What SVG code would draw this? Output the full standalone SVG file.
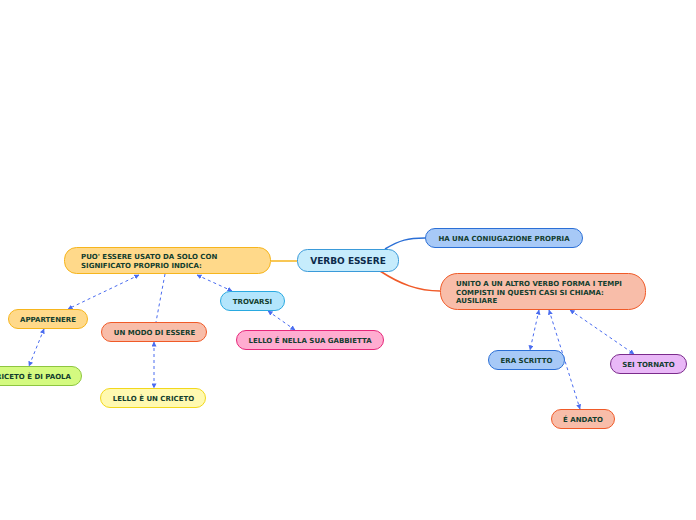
<svg xmlns="http://www.w3.org/2000/svg" width="696" height="520" viewBox="0 0 696 520">
<defs>
<marker id="ah" viewBox="0 0 6 6" refX="5.5" refY="3" markerWidth="5" markerHeight="5" orient="auto-start-reverse" markerUnits="userSpaceOnUse">
<path d="M0,0 L6,3 L0,6 z" fill="#4a6cf0"/>
</marker>
<style>
text{font-family:"DejaVu Sans",Verdana,sans-serif;font-weight:bold;font-size:7px;fill:#123d2e}
.c{text-anchor:middle}
.d{fill:none;stroke:#4a6cf0;stroke-width:1;stroke-dasharray:3,3}
.a{marker-start:url(#ah);marker-end:url(#ah)}
rect{stroke-width:1}
</style>
</defs>
<rect width="696" height="520" fill="#ffffff"/>
<g id="connectors">
<path d="M271,261 L297,261" stroke="#f6b51d" stroke-width="1.5" fill="none"/>
<path d="M385,249 C400,240 408,238 425,238" stroke="#2b6fd6" stroke-width="1.5" fill="none"/>
<path d="M380,271 C400,284 418,291 440,291" stroke="#f05a28" stroke-width="1.5" fill="none"/>
<path class="d a" d="M139,275 L68,309"/>
<path class="d" d="M165,274 L156,322"/>
<path class="d a" d="M197,275 L232,291"/>
<path class="d a" d="M268,311 L295,330"/>
<path class="d a" d="M44,329 L29,366"/>
<path class="d a" d="M154,342 L154,388"/>
<path class="d a" d="M539,310 L530,350"/>
<path class="d a" d="M549,310 L580,409"/>
<path class="d a" d="M570,310 L634,354"/>
</g>
<g id="n-verbo">
<rect x="297.5" y="249.5" width="101" height="22" rx="10" fill="#c6ecfc" stroke="#3a9ad9"/>
<text x="348" y="264" class="c" style="font-size:9px;fill:#0c2a4a">VERBO ESSERE</text>
</g>
<g id="n-coniugazione">
<rect x="425.5" y="228.5" width="157" height="19" rx="9.5" fill="#a7c9f7" stroke="#2b6fd6"/>
<text x="504" y="240.5" class="c">HA UNA CONIUGAZIONE PROPRIA</text>
</g>
<g id="n-unito">
<rect x="440.5" y="273.5" width="205" height="36" rx="17" fill="#f8bda9" stroke="#f05a28"/>
<text x="456" y="286">UNITO A UN ALTRO VERBO FORMA I TEMPI</text>
<text x="456" y="294.5">COMPISTI IN QUESTI CASI SI CHIAMA:</text>
<text x="456" y="303">AUSILIARE</text>
</g>
<g id="n-puo">
<rect x="64.5" y="247.5" width="206" height="26" rx="12" fill="#ffd98a" stroke="#f6b51d"/>
<text x="81" y="259">PUO' ESSERE USATO DA SOLO CON</text>
<text x="81" y="267.5">SIGNIFICATO PROPRIO INDICA:</text>
</g>
<g id="n-trovarsi">
<rect x="220.5" y="291.5" width="64" height="19" rx="9.5" fill="#b3e5fc" stroke="#29a9e0"/>
<text x="252.5" y="303.5" class="c">TROVARSI</text>
</g>
<g id="n-gabbietta">
<rect x="236.5" y="330.5" width="147" height="19" rx="9.5" fill="#ffacd0" stroke="#e6277a"/>
<text x="310" y="342.5" class="c">LELLO É NELLA SUA GABBIETTA</text>
</g>
<g id="n-appartenere">
<rect x="8.5" y="309.5" width="79" height="19" rx="9.5" fill="#ffd98a" stroke="#f6b51d"/>
<text x="48" y="321.5" class="c">APPARTENERE</text>
</g>
<g id="n-modo">
<rect x="101.5" y="322.5" width="105" height="19" rx="9.5" fill="#f8bda9" stroke="#f05a28"/>
<text x="154.5" y="334.5" class="c">UN MODO DI ESSERE</text>
</g>
<g id="n-paola">
<rect x="-50.5" y="366.5" width="132" height="19" rx="9.5" fill="#d4fa80" stroke="#8dc63f"/>
<text x="71" y="378.5" style="text-anchor:end">IL CRICETO È DI PAOLA</text>
</g>
<g id="n-criceto">
<rect x="100.5" y="388.5" width="105" height="19" rx="9.5" fill="#fff9b0" stroke="#f2d81c"/>
<text x="153.5" y="400.5" class="c">LELLO È UN CRICETO</text>
</g>
<g id="n-scritto">
<rect x="488.5" y="350.5" width="76" height="19" rx="9.5" fill="#a7c9f7" stroke="#2b6fd6"/>
<text x="526.5" y="362.5" class="c">ERA SCRITTO</text>
</g>
<g id="n-tornato">
<rect x="610.5" y="354.5" width="76" height="19" rx="9.5" fill="#e9b8f7" stroke="#7b2b8c"/>
<text x="648.5" y="366.5" class="c">SEI TORNATO</text>
</g>
<g id="n-andato">
<rect x="551.5" y="409.5" width="63" height="19" rx="9.5" fill="#f8bda9" stroke="#f05a28"/>
<text x="583" y="421.5" class="c">É ANDATO</text>
</g>
</svg>
